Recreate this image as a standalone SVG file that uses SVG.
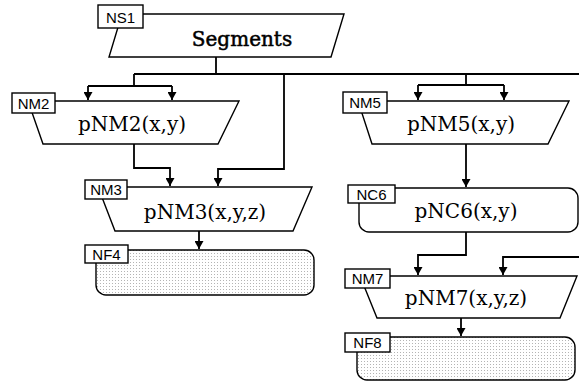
<svg xmlns="http://www.w3.org/2000/svg" width="579" height="387" viewBox="0 0 579 387">
<style>
.shape{fill:#fff;stroke:#000;stroke-width:1.4;stroke-linejoin:miter}
.dot{fill:url(#dots);stroke:#000;stroke-width:1.4}
.lbl{fill:#fff;stroke:#000;stroke-width:1.4}
.lt{font-family:"Liberation Sans",Arial,sans-serif;font-size:15px;text-anchor:middle;fill:#000}
.nt{font-family:"DejaVu Serif","Liberation Serif",serif;font-size:20px;text-anchor:middle;fill:#000}
.c{fill:none;stroke:#000;stroke-width:1.8}
.a{fill:none;stroke:#000;stroke-width:1.8;marker-end:url(#arr)}
</style>
<defs>
<pattern id="dots" width="3" height="3" patternUnits="userSpaceOnUse">
<rect width="3" height="3" fill="#fff"/>
<rect x="1" y="1" width="1" height="1" fill="#b4b4b4"/>
</pattern>
<marker id="arr" markerWidth="8" markerHeight="9" refX="8" refY="4.5" orient="auto" markerUnits="userSpaceOnUse">
<path d="M0,0 L8,4.5 L0,9 z" fill="#000"/>
</marker>
</defs>
<g id="connectors">
<path class="c" d="M216,57 V74 M134,74 H579"/>
<path class="c" d="M134,74 V86 M88,86 H172"/>
<path class="a" d="M88,86 V100"/>
<path class="a" d="M172,86 V100"/>
<path class="a" d="M284,74 V169 H218 V186"/>
<path class="a" d="M134,144 V168 H170 V186"/>
<path class="a" d="M199,231 V249"/>
<path class="c" d="M466,74 V85 M418,85 H504"/>
<path class="a" d="M418,85 V100"/>
<path class="a" d="M504,85 V100"/>
<path class="a" d="M466,144 V187"/>
<path class="a" d="M466,232 V255 H418 V275"/>
<path class="a" d="M579,257 H503 V275"/>
<path class="a" d="M461,318 V336"/>
</g>
<g id="NS1">
<polygon class="shape" points="122,14 344,14 331,57 109,57"/>
<text class="nt" x="242" y="46" stroke="#000" stroke-width="0.5">Segments</text>
<rect class="lbl" x="98" y="5" width="45" height="23"/>
<text class="lt" x="120.5" y="22.5">NS1</text>
</g>
<g id="NM2">
<polygon class="shape" points="28,101 239,101 218,144 43,144"/>
<text class="nt" x="132" y="131">pNM2(x,y)</text>
<rect class="lbl" x="12" y="93" width="43" height="20"/>
<text class="lt" x="33.5" y="108.5">NM2</text>
</g>
<g id="NM3">
<polygon class="shape" points="98,187 312,187 293,231 115,231"/>
<text class="nt" x="205" y="219">pNM3(x,y,z)</text>
<rect class="lbl" x="85" y="180" width="42" height="19"/>
<text class="lt" x="106" y="195">NM3</text>
</g>
<g id="NF4">
<rect class="dot" x="96" y="250" width="218" height="45" rx="10"/>
<rect class="lbl" x="85" y="245" width="43" height="18"/>
<text class="lt" x="106.5" y="259.5">NF4</text>
</g>
<g id="NM5">
<polygon class="shape" points="358,101 569,101 548,144 372,144"/>
<text class="nt" x="461" y="131">pNM5(x,y)</text>
<rect class="lbl" x="343" y="92" width="44" height="21"/>
<text class="lt" x="365" y="107.5">NM5</text>
</g>
<g id="NC6">
<rect class="shape" x="359" y="188" width="219" height="44" rx="10"/>
<text class="nt" x="466" y="218">pNC6(x,y)</text>
<rect class="lbl" x="348" y="185" width="47" height="18"/>
<text class="lt" x="371.5" y="199.5">NC6</text>
</g>
<g id="NM7">
<polygon class="shape" points="360,276 577,276 560,318 377,318"/>
<text class="nt" x="466" y="305">pNM7(x,y,z)</text>
<rect class="lbl" x="345" y="269" width="45" height="19"/>
<text class="lt" x="367.5" y="284">NM7</text>
</g>
<g id="NF8">
<rect class="dot" x="357" y="337" width="218" height="43" rx="10"/>
<rect class="lbl" x="345" y="333" width="45" height="19"/>
<text class="lt" x="367.5" y="348">NF8</text>
</g>
</svg>
